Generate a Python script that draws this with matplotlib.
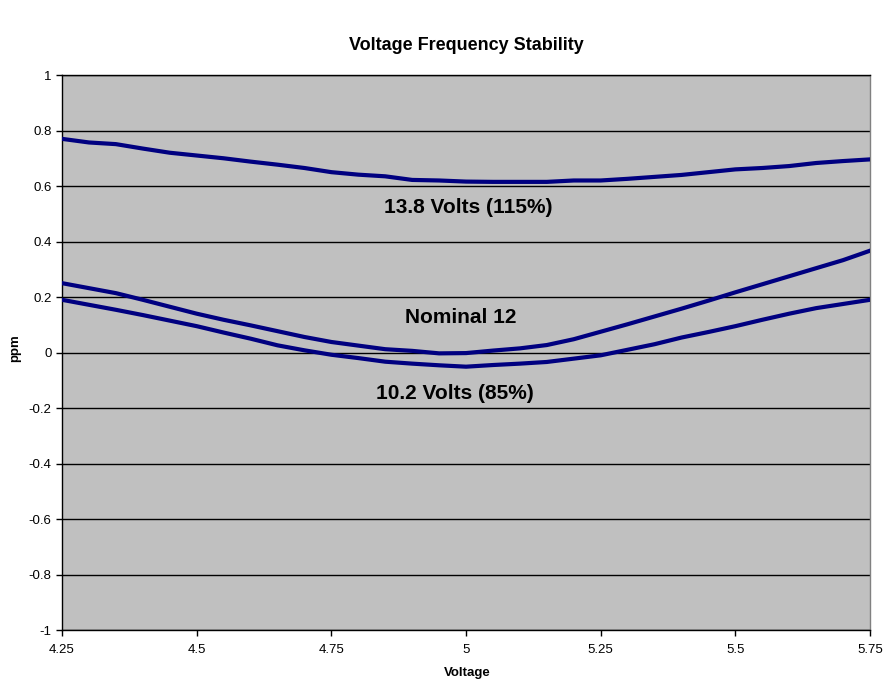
import matplotlib
matplotlib.use('Agg')
import matplotlib.pyplot as plt

plt.rcParams['font.family'] = ['Liberation Sans', 'DejaVu Sans']

# supply voltage (x axis)
voltage = [4.25, 4.30, 4.35, 4.40, 4.45, 4.50, 4.55, 4.60, 4.65, 4.70, 4.75,
           4.80, 4.85, 4.90, 4.95, 5.00, 5.05, 5.10, 5.15, 5.20, 5.25, 5.30,
           5.35, 5.40, 5.45, 5.50, 5.55, 5.60, 5.65, 5.70, 5.75]

ppm_138 = [0.770, 0.757, 0.751, 0.735, 0.720, 0.710, 0.700, 0.688, 0.677, 0.665, 0.650,
           0.641, 0.635, 0.622, 0.620, 0.616, 0.615, 0.615, 0.615, 0.620, 0.620, 0.626,
           0.633, 0.640, 0.650, 0.660, 0.665, 0.672, 0.683, 0.690, 0.696]

ppm_nominal = [0.250, 0.232, 0.214, 0.190, 0.165, 0.140, 0.118, 0.098, 0.077, 0.056, 0.038,
               0.025, 0.012, 0.006, -0.003, -0.002, 0.007, 0.015, 0.027, 0.048, 0.075, 0.102,
               0.130, 0.158, 0.187, 0.217, 0.246, 0.275, 0.304, 0.333, 0.367]

ppm_102 = [0.190, 0.172, 0.154, 0.135, 0.115, 0.095, 0.072, 0.050, 0.026, 0.008, -0.008,
           -0.020, -0.033, -0.040, -0.046, -0.051, -0.045, -0.040, -0.034, -0.022, -0.010, 0.010,
           0.030, 0.054, 0.074, 0.095, 0.118, 0.140, 0.160, 0.175, 0.190]

x_ticks = [4.25, 4.5, 4.75, 5, 5.25, 5.5, 5.75]
x_tick_labels = ['4.25', '4.5', '4.75', '5', '5.25', '5.5', '5.75']
y_ticks = [-1, -0.8, -0.6, -0.4, -0.2, 0, 0.2, 0.4, 0.6, 0.8, 1]
y_tick_labels = ['-1', '-0.8', '-0.6', '-0.4', '-0.2', '0', '0.2', '0.4', '0.6', '0.8', '1']

fig = plt.figure(figsize=(8.85, 6.84), dpi=100)
ax = fig.add_axes([0.0701, 0.0789, 0.9130, 0.8114])
ax.set_facecolor('#c0c0c0')

navy = '#000080'
for series in (ppm_138, ppm_nominal, ppm_102):
    ax.plot(voltage, series, color=navy, lw=3.0, solid_joinstyle='round', zorder=3)

ax.set_xlim(4.25, 5.75)
ax.set_ylim(-1, 1)
ax.set_xticks(x_ticks)
ax.set_xticklabels(x_tick_labels)
ax.set_yticks(y_ticks)
ax.set_yticklabels(y_tick_labels)
ax.tick_params(direction='out', length=4, width=1, labelsize=9.5, color='black')
ax.tick_params(axis='x', pad=6)
ax.grid(axis='y', color='black', lw=1)
ax.set_axisbelow(True)
for sp in ax.spines.values():
    sp.set_color('black')
    sp.set_linewidth(1)
ax.spines['right'].set_color('#808080')

# title and axis labels placed in figure pixels to match the original layout
fig.text(466 / 885, 1 - 45 / 684, 'Voltage Frequency Stability', ha='center', va='center',
         fontsize=13, fontweight='bold')
fig.text(467 / 885, 1 - 673 / 684, 'Voltage', ha='center', va='center',
         fontsize=9.5, fontweight='bold')
fig.text(15 / 885, 1 - 348 / 684, 'ppm', ha='center', va='center', rotation=90,
         fontsize=9.5, fontweight='bold')

ax.text(5.005, 0.521, '13.8 Volts (115%)', ha='center', va='center',
        fontsize=15, fontweight='bold', zorder=4)
ax.text(4.99, 0.125, 'Nominal 12', ha='center', va='center',
        fontsize=15, fontweight='bold', zorder=4)
ax.text(4.979, -0.147, '10.2 Volts (85%)', ha='center', va='center',
        fontsize=15, fontweight='bold', zorder=4)

fig.savefig('out.png', dpi=100)
plt.close(fig)
